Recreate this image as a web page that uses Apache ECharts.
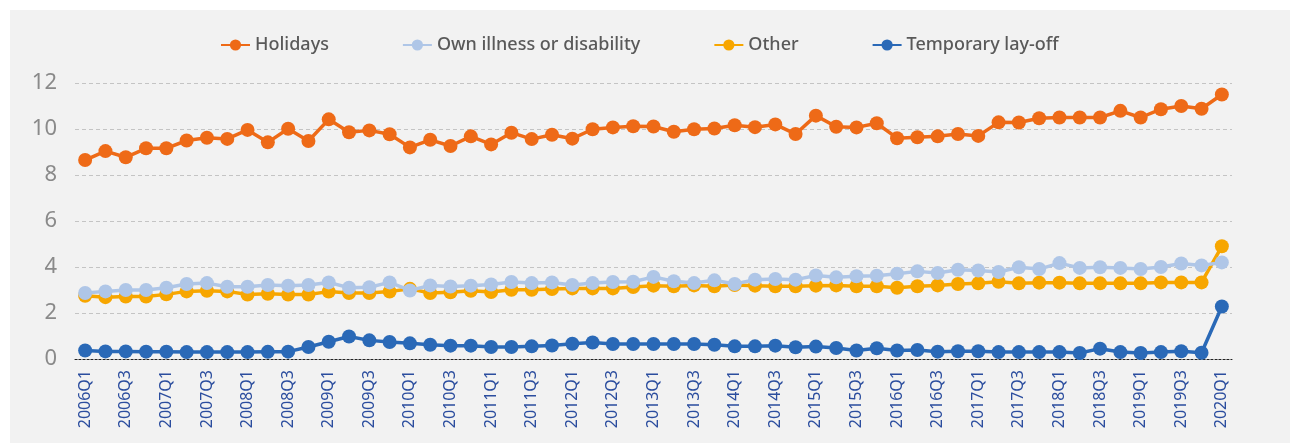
<!DOCTYPE html>
<html>
<head>
<meta charset="utf-8">
<script src="https://cdn.jsdelivr.net/npm/echarts@6/dist/echarts.min.js"></script>
<style>
html,body{margin:0;padding:0;background:#ffffff;}
#chart{width:1290px;height:443px;}
</style>
</head>
<body>
<div id="chart"></div>
<script>
const categories = [
 "2006Q1","2006Q2","2006Q3","2006Q4","2007Q1","2007Q2","2007Q3","2007Q4",
 "2008Q1","2008Q2","2008Q3","2008Q4","2009Q1","2009Q2","2009Q3","2009Q4",
 "2010Q1","2010Q2","2010Q3","2010Q4","2011Q1","2011Q2","2011Q3","2011Q4",
 "2012Q1","2012Q2","2012Q3","2012Q4","2013Q1","2013Q2","2013Q3","2013Q4",
 "2014Q1","2014Q2","2014Q3","2014Q4","2015Q1","2015Q2","2015Q3","2015Q4",
 "2016Q1","2016Q2","2016Q3","2016Q4","2017Q1","2017Q2","2017Q3","2017Q4",
 "2018Q1","2018Q2","2018Q3","2018Q4","2019Q1","2019Q2","2019Q3","2019Q4",
 "2020Q1"
];
const holidays = [8.65,9.04,8.77,9.16,9.16,9.5,9.62,9.57,9.96,9.42,10.01,9.48,10.42,9.86,9.94,9.77,
 9.2,9.53,9.26,9.68,9.33,9.84,9.56,9.75,9.58,9.99,10.07,10.12,10.11,9.88,9.99,10.02,
 10.16,10.08,10.2,9.78,10.58,10.1,10.07,10.25,9.6,9.64,9.68,9.78,9.7,10.29,10.28,10.47,
 10.5,10.5,10.5,10.79,10.5,10.86,11.0,10.88,11.5];
const ownIllness = [2.87,2.94,3.0,3.0,3.1,3.26,3.3,3.14,3.14,3.22,3.19,3.22,3.33,3.1,3.12,3.33,
 2.98,3.2,3.15,3.19,3.24,3.35,3.3,3.33,3.22,3.3,3.35,3.36,3.57,3.38,3.3,3.42,
 3.26,3.45,3.48,3.45,3.63,3.55,3.6,3.62,3.71,3.81,3.74,3.88,3.85,3.78,3.99,3.91,
 4.17,3.96,3.99,3.96,3.91,4.0,4.15,4.07,4.2];
const other = [2.75,2.69,2.72,2.72,2.81,2.94,2.97,2.94,2.8,2.84,2.8,2.8,2.93,2.87,2.87,2.93,
 3.05,2.87,2.9,2.97,2.91,3.01,3.01,3.04,3.07,3.07,3.07,3.13,3.19,3.16,3.2,3.16,
 3.22,3.19,3.16,3.16,3.19,3.2,3.16,3.16,3.1,3.16,3.2,3.26,3.29,3.36,3.29,3.32,
 3.32,3.29,3.29,3.29,3.29,3.33,3.33,3.33,4.9];
const tempLayoff = [0.37,0.33,0.33,0.32,0.32,0.3,0.3,0.3,0.3,0.31,0.32,0.52,0.75,0.98,0.81,0.74,
 0.68,0.62,0.58,0.58,0.52,0.52,0.55,0.59,0.66,0.72,0.65,0.65,0.65,0.65,0.65,0.62,
 0.55,0.55,0.58,0.51,0.54,0.48,0.37,0.47,0.37,0.39,0.32,0.34,0.34,0.3,0.3,0.3,
 0.3,0.26,0.45,0.3,0.26,0.3,0.34,0.27,2.28];
const seriesNames = ["Holidays","Own illness or disability","Other","Temporary lay-off"];
const yTicks = {min:0, max:12, interval:2};

const colors = ["#ee6a17","#afc6e7","#f7a600","#2a69b7"];
const font = "'Noto Sans',sans-serif";

function mk(name, data, color, z){
  return {
    name: name, type: 'line', data: data, z: z,
    symbol: 'circle', symbolSize: 14, showAllSymbol: true,
    lineStyle: {width: 3.5, color: color},
    itemStyle: {color: color},
    emphasis: {disabled: true},
    animation: false
  };
}

const chart = echarts.init(document.getElementById('chart'), null, {renderer:'canvas'});
chart.setOption({
  backgroundColor: '#ffffff',
  animation: false,
  graphic: [{
    type: 'rect', z: -10, silent: true,
    shape: {x: 10, y: 10, width: 1280, height: 433},
    style: {fill: '#f2f2f2'}
  }],
  color: colors,
  legend: {
    top: 31, left: 215,
    itemWidth: 29, itemHeight: 14, itemGap: 73,
    textStyle: {fontFamily: font, fontSize: 18, color: '#595959', fontWeight: 500},
    data: seriesNames
  },
  grid: {left: 75, right: 58, top: 83, bottom: 84, containLabel: false},
  xAxis: {
    type: 'category', data: categories, boundaryGap: true,
    axisLine: {show: true, lineStyle: {color: '#222', type: [2,2], width: 1}},
    axisTick: {show: false},
    axisLabel: {interval: 1, rotate: 90, margin: 11, color: '#2b4d9e', fontFamily: font, fontSize: 16},
    splitLine: {show: false}
  },
  yAxis: {
    type: 'value', min: yTicks.min, max: yTicks.max, interval: yTicks.interval,
    axisLine: {show: false}, axisTick: {show: false},
    axisLabel: {margin: 18, color: '#8a8a8a', fontFamily: font, fontSize: 22},
    splitLine: {show: true, lineStyle: {color: '#c4c4c4', type: [4,3], width: 1}}
  },
  series: [
    mk(seriesNames[0], holidays, colors[0], 2),
    mk(seriesNames[1], ownIllness, colors[1], 4),
    mk(seriesNames[2], other, colors[2], 3),
    mk(seriesNames[3], tempLayoff, colors[3], 5)
  ]
});
</script>
</body>
</html>
